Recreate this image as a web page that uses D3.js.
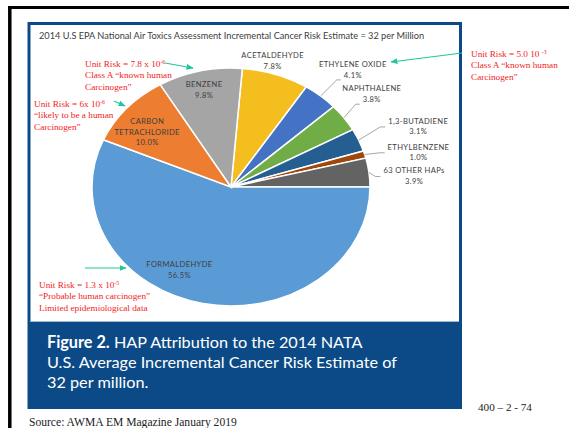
<!DOCTYPE html>
<html>
<head>
<meta charset="utf-8">
<script src="https://cdn.jsdelivr.net/npm/d3@7"></script>
<style>
  body { margin: 0; background: #fff; }
  svg { display: block; }
</style>
</head>
<body>
<svg id="chart"></svg>
<script>
// Data
const slices = ["ACETALDEHYDE", "ETHYLENE OXIDE", "NAPHTHALENE", "1,3-BUTADIENE", "ETHYLBENZENE",
  "63 OTHER HAPs", "FORMALDEHYDE", "CARBON\nTETRACHLORIDE", "BENZENE"];
const shares = [7.8, 4.1, 3.8, 3.1, 1.0, 3.9, 56.5, 10.0, 9.8];
const palette = ["#f4be1e", "#4472c4", "#70ad47", "#255e91", "#9e480e", "#636363", "#5b9bd5", "#ed7d31", "#a5a5a5"];
// where each label sits: [angle in degrees, fraction of radius]
const labelAt = [[15.8, 1.10], [41.6, 1.32], [52.3, 1.28], [69.3, 1.44], [77.8, 1.38], [86, 1.32],
  [208, 0.79], [307.5, 0.76], [346.7, 0.84]];
const outside = [false, true, true, true, true, true, false, false, false];

const title = "2014 U.S EPA National Air Toxics Assessment Incremental Cancer Risk Estimate = 32 per Million";
const captionBold = "Figure 2.";
const captionLines = [" HAP Attribution to the 2014 NATA", "U.S. Average Incremental Cancer Risk Estimate of", "32 per million."];

// red notes: lines, superscript on first line
const notes = [
  { x: 85, y: 67, lines: ["Unit Risk = 7.8 x 10", "Class A \u201cknown human", "Carcinogen\u201d"], sup: "-6" },
  { x: 34, y: 107, lines: ["Unit Risk = 6x 10", "\u201clikely to be a human", "Carcinogen\u201d"], sup: "-6" },
  { x: 471, y: 57, lines: ["Unit Risk = 5.0 10 ", "Class A \u201cknown human", "Carcinogen\u201d"], sup: "-3" },
  { x: 39, y: 288, lines: ["Unit Risk = 1.3 x 10", "\u201cProbable human carcinogen\u201d", "Limited epidemiological data"], sup: "-5" }
];
const arrows = [[165, 63, 193, 68], [114, 101, 125, 106], [462, 53, 391, 62], [85, 268, 126, 268]];

const width = 569, height = 428;
const svg = d3.select("#chart").attr("width", width).attr("height", height);

// size a font so that a text node comes out at the width seen in the figure
function fitSize(sel, base, target) {
  sel.attr("font-size", base);
  const w = sel.node().getComputedTextLength();
  return base * target / w;
}

// black page frame
svg.append("line").attr("x1", 8).attr("x2", width).attr("y1", 7.5).attr("y2", 7.5)
  .attr("stroke", "#000").attr("stroke-width", 3);
svg.append("line").attr("x1", 9.8).attr("x2", 9.8).attr("y1", 6).attr("y2", height)
  .attr("stroke", "#000").attr("stroke-width", 3.5);

// blue figure box
const navy = "#0b4a86";
svg.append("rect").attr("x", 28.5).attr("y", 322).attr("width", 433.5).attr("height", 87).attr("fill", navy);
svg.append("rect").attr("x", 29).attr("y", 23.5).attr("width", 431.5).attr("height", 384)
  .attr("fill", "none").attr("stroke", navy).attr("stroke-width", 3);
svg.append("line").attr("x1", 30.5).attr("x2", 459).attr("y1", 321.5).attr("y2", 321.5)
  .attr("stroke", "#9fb7cf").attr("stroke-width", 1);

const titleText = svg.append("text").attr("x", 39).attr("y", 39)
  .attr("font-family", "Lato, sans-serif").attr("fill", "#404040")
  .text(title);
titleText.attr("font-size", fitSize(titleText, 8, 386));

// pie, drawn as a circle then squashed into the ellipse of the figure
const cx = 231, cy = 187, rx = 139, ry = 119;
const pie = d3.pie().sort(null).value(d => d)
  .startAngle((90 - 0.237 * 360) * Math.PI / 180)
  .endAngle((90 - 0.237 * 360 + 360) * Math.PI / 180);
const arcs = pie(shares);
const arc = d3.arc().innerRadius(0).outerRadius(rx);

svg.append("g").attr("transform", `translate(${cx},${cy}) scale(1,${ry / rx})`)
  .selectAll("path").data(arcs).join("path")
  .attr("d", arc)
  .attr("fill", (d, i) => palette[i])
  .attr("stroke", "#fff").attr("stroke-width", 1.5)
  .attr("vector-effect", "non-scaling-stroke");

const pt = (deg, f) => {
  const a = deg * Math.PI / 180;
  return [cx + rx * f * Math.sin(a), cy - ry * f * Math.cos(a)];
};

const labels = svg.append("g").attr("font-family", "Lato, sans-serif").attr("font-size", 7.6)
  .attr("fill", "#404040").attr("letter-spacing", 0.35).attr("text-anchor", "middle");
const lh = 10.7;

arcs.forEach((d, i) => {
  const [lx, ly] = pt(labelAt[i][0], labelAt[i][1]);
  const lines = slices[i].split("\n").concat([shares[i].toFixed(1) + "%"]);
  const top = ly - (lines.length - 1) * lh / 2;
  const t = labels.append("text");
  lines.forEach((s, k) => {
    t.append("tspan").attr("x", lx).attr("y", top + k * lh + 2.7).text(s);
  });
  if (outside[i]) {
    const mid = (d.startAngle + d.endAngle) / 2 * 180 / Math.PI;
    const [sx, sy] = pt(mid, 1.0);
    const nameW = t.select("tspan").node().getComputedTextLength();
    const pctW = t.selectAll("tspan").nodes()[lines.length - 1].getComputedTextLength();
    let pts;
    if (lx - nameW / 2 < sx + 10) {
      const ex = lx - pctW / 2 - 3, ey = top + lh + 5;
      pts = [[sx, sy], [ex - 4, ey], [ex, ey]];
    } else {
      const ex = lx - nameW / 2 - 3, ey = ly + 0.5;
      pts = [[sx, sy], [ex - 5, ey], [ex, ey]];
    }
    svg.append("path").attr("d", d3.line()(pts)).attr("fill", "none")
      .attr("stroke", "#a6a6a6").attr("stroke-width", 1);
  }
});

// teal arrows
const teal = "#1fc79b";
svg.append("defs").append("marker").attr("id", "head")
  .attr("viewBox", "0 0 10 10").attr("refX", 9).attr("refY", 5)
  .attr("markerWidth", 6).attr("markerHeight", 6).attr("orient", "auto")
  .append("path").attr("d", "M0,1L10,5L0,9Z").attr("fill", teal);
svg.selectAll("line.arrow").data(arrows).join("line").attr("class", "arrow")
  .attr("x1", d => d[0]).attr("y1", d => d[1]).attr("x2", d => d[2]).attr("y2", d => d[3])
  .attr("stroke", teal).attr("stroke-width", 1.2).attr("marker-end", "url(#head)");

// red notes
const serif = "'Liberation Serif', 'Times New Roman', serif";
const noteG = svg.append("g").attr("font-family", serif).attr("fill", "#f21c1c");
const probe = noteG.append("text").text("Class A \u201cknown human");
const noteSize = fitSize(probe, 9, 87);
probe.remove();
noteG.attr("font-size", noteSize);
notes.forEach(n => {
  n.lines.forEach((s, k) => {
    const t = noteG.append("text").attr("x", n.x).attr("y", n.y + k * 11.3);
    t.append("tspan").text(s);
    if (k === 0) t.append("tspan").attr("font-size", noteSize * 0.62).attr("dy", -3.5).text(n.sup);
  });
});

// caption
const cap = svg.append("g").attr("font-family", "Lato, sans-serif").attr("fill", "#fff");
const second = cap.append("text").attr("x", 47).attr("y", 368).text(captionLines[1]);
const capSize = fitSize(second, 16, 350);
cap.attr("font-size", capSize);
second.attr("font-size", null);
const first = cap.append("text").attr("x", 47).attr("y", 347.5);
first.append("tspan").attr("font-weight", "bold").text(captionBold);
first.append("tspan").text(captionLines[0]);
cap.append("text").attr("x", 47).attr("y", 388).text(captionLines[2]);

const pageNo = svg.append("text").attr("x", 478).attr("y", 411).attr("font-family", serif)
  .attr("fill", "#222").text("400 \u2013 2 - 74");
pageNo.attr("font-size", fitSize(pageNo, 11, 54));
const source = svg.append("text").attr("x", 29).attr("y", 425.5).attr("font-family", serif)
  .attr("fill", "#222").text("Source: AWMA EM Magazine January 2019");
source.attr("font-size", fitSize(source, 11, 208));
</script>
</body>
</html>
